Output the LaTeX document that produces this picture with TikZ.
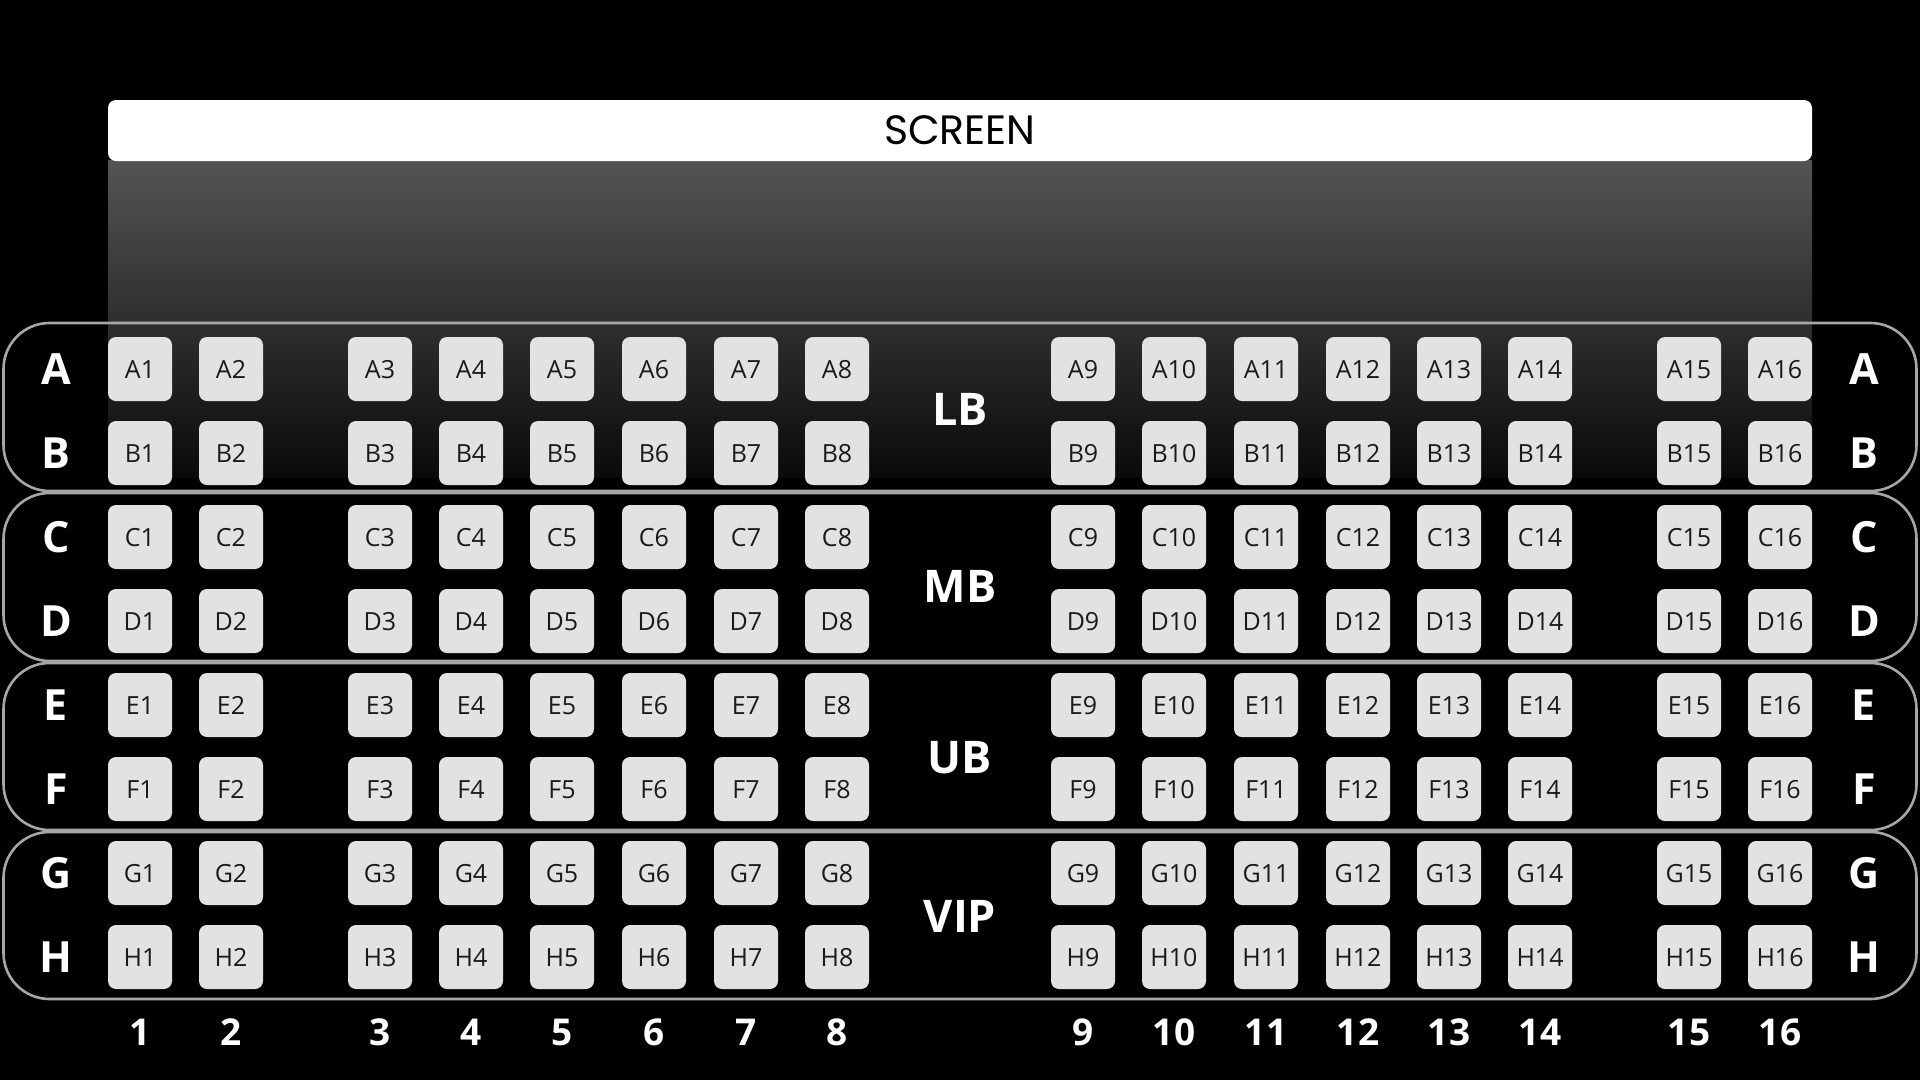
\documentclass[tikz,border=0pt]{standalone}
\usepackage{fontspec}
\setmainfont{Open Sans}
\newfontfamily\scrfont{Poppins}
\definecolor{seatfill}{HTML}{E2E2E2}
\definecolor{seattext}{HTML}{1A1A1A}
\definecolor{secline}{HTML}{A6A6A6}
\begin{document}
\begin{tikzpicture}[x=1pt,y=-1pt,
  seat/.style={fill=seatfill, rounded corners=8pt, minimum width=64pt, minimum height=64pt,
    inner sep=0pt, text=seattext, font=\fontsize{25}{30}\selectfont, text height=18pt, text depth=0pt},
  rowlbl/.style={text=white, inner sep=0pt, font=\fontsize{43}{50}\selectfont\bfseries, text height=31pt, text depth=0pt},
  collbl/.style={text=white, inner sep=0pt, font=\fontsize{37}{44}\selectfont\bfseries, text height=27pt, text depth=0pt},
  seclbl/.style={text=white, inner sep=0pt, font=\fontsize{45}{52}\selectfont\bfseries, text height=32pt, text depth=0pt},
  secbox/.style={draw=secline, line width=2.6pt, rounded corners=46pt, minimum width=1913pt, inner sep=0pt},
  screenbox/.style={fill=white, rounded corners=8pt, minimum width=1704pt, minimum height=61pt, inner sep=0pt,
    text=black, font=\scrfont\fontsize{41}{48}\selectfont, text height=28pt, text depth=0pt}
]
\useasboundingbox (0,0) rectangle (1920,1080);
\fill[black] (0,0) rectangle (1920,1080);
% light cast by the screen
\shade[top color=black!67, middle color=black!87, bottom color=black!96] (108,160) rectangle (1812,477);
\node[screenbox] (screen) at (960,130.5) {SCREEN};
% section boxes
\node[secbox, minimum height=168pt] (secLB) at (960,407) {};
\node[secbox, minimum height=168pt] (secMB) at (960,577) {};
\node[secbox, minimum height=167pt] (secUB) at (960,746.5) {};
\node[secbox, minimum height=167pt] (secVIP) at (960,915.5) {};
\node[seclbl] (lblLB) at (960,409) {LB};
\node[seclbl] (lblMB) at (960,586) {MB};
\node[seclbl] (lblUB) at (960,757.5) {UB};
\node[seclbl] (lblVIP) at (960,916.5) {VIP};
% seats and row letters
\foreach \r [count=\i from 0] in {A,B,C,D,E,F,G,H}{
  \node[rowlbl] (rowL\r) at (56,{369+84*\i}) {\r};
  \node[rowlbl] (rowR\r) at (1864,{369+84*\i}) {\r};
  \foreach \c [count=\n] in {140,231,380,471,562,654,746,837,1083,1174,1266,1358,1449,1540,1689,1780}{
    \node[seat] (\r\n) at (\c,{369+84*\i}) {\r\n};
  }
}
% column numbers
\foreach \c [count=\n] in {140,231,380,471,562,654,746,837,1083,1174,1266,1358,1449,1540,1689,1780}{
  \node[collbl] (col\n) at (\c,1031.5) {\n};
}
\end{tikzpicture}
\end{document}
